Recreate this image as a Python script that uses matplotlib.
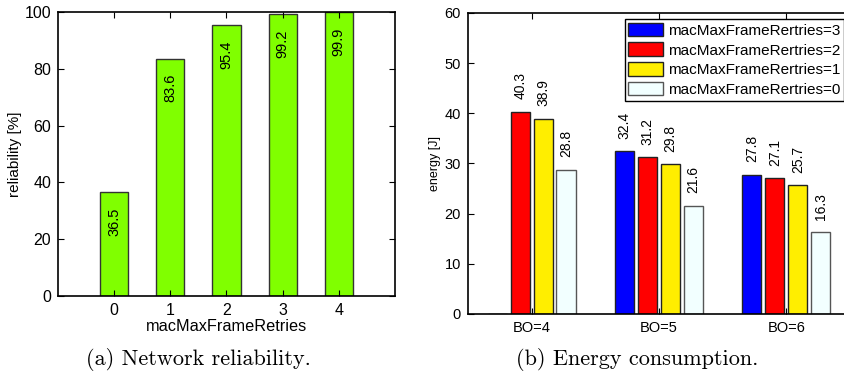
import numpy as np
import matplotlib
matplotlib.use('Agg')
import matplotlib.pyplot as plt

plt.rcParams['font.family'] = ['Liberation Sans', 'DejaVu Sans']

# left chart: reliability vs retries
retries = [0, 1, 2, 3, 4]
reliability = [36.5, 83.6, 95.4, 99.2, 99.9]

# right chart: energy per beacon order
groups = ['BO=4', 'BO=5', 'BO=6']
series_names = ['macMaxFrameRertries=3', 'macMaxFrameRertries=2',
                'macMaxFrameRertries=1', 'macMaxFrameRertries=0']
energy_r3 = [0.0, 32.4, 27.8]
energy_r2 = [40.3, 31.2, 27.1]
energy_r1 = [38.9, 29.8, 25.7]
energy_r0 = [28.8, 21.6, 16.3]

fig = plt.figure(figsize=(8.44, 3.73), dpi=100)

# ---- (a) reliability
ax1 = fig.add_axes([0.0687, 0.2064, 0.3993, 0.7614])
ax1.bar(retries, reliability, width=0.5, color='#80ff00', edgecolor='#333333', linewidth=1)
for x, v in zip(retries, reliability):
    ax1.annotate(f'{v:.1f}', (x, v), xytext=(0, -11), textcoords='offset points',
                 ha='center', va='top', rotation=90, fontsize=10.5)
ax1.set_xlim(-1, 5)
ax1.set_ylim(0, 100)
ax1.set_xticks(retries)
ax1.set_yticks(range(0, 101, 20))
ax1.set_xlabel('macMaxFrameRetries', fontsize=11.7, labelpad=1)
ax1.set_ylabel('reliability [%]', fontsize=11, labelpad=2)
ax1.tick_params(direction='in', top=True, right=True, labelsize=11.5, length=4, pad=5)

# ---- (b) energy
ax2 = fig.add_axes([0.5545, 0.1582, 0.4526, 0.807])
x = np.arange(1, len(groups) + 1)
offsets = [-0.27, -0.09, 0.09, 0.27]
colors = ['#0000ff', '#ff0000', '#ffee00', '#f2ffff']
edges = ['#222222', '#222222', '#222222', '#555555']
all_series = [energy_r3, energy_r2, energy_r1, energy_r0]
for vals, off, c, ec, name in zip(all_series, offsets, colors, edges, series_names):
    ax2.bar(x + off, vals, width=0.15, color=c, edgecolor=ec, linewidth=1, label=name)
    for xi, v in zip(x + off, vals):
        if v > 0:
            ax2.annotate(f'{v:.1f}', (xi, v), xytext=(0, 9), textcoords='offset points',
                         ha='center', va='bottom', rotation=90, fontsize=10)
ax2.set_xlim(0.5, 3.5)
ax2.set_ylim(0, 60)
ax2.set_xticks(x)
ax2.set_xticklabels(groups)
ax2.set_yticks(range(0, 61, 10))
ax2.set_ylabel('energy [J]', fontsize=9, labelpad=3)
ax2.tick_params(direction='in', top=True, right=True, labelsize=10.5, length=4, pad=5)
leg = ax2.legend(loc='upper right', bbox_to_anchor=(0.985, 0.98), fontsize=11,
                 fancybox=False, edgecolor='black', framealpha=1,
                 handlelength=2.3, handleheight=1.0, handletextpad=0.3,
                 labelspacing=0.3, borderpad=0.25, borderaxespad=0)
leg.get_frame().set_linewidth(1)

for ax in (ax1, ax2):
    for s in ax.spines.values():
        s.set_linewidth(1.2)

fig.text(0.2346, 0.035, '(a) Network reliability.', ha='center', va='center',
         fontsize=16, family='cmr10')
fig.text(0.7547, 0.035, '(b) Energy consumption.', ha='center', va='center',
         fontsize=16, family='cmr10')

fig.savefig('out.png', dpi=100)
